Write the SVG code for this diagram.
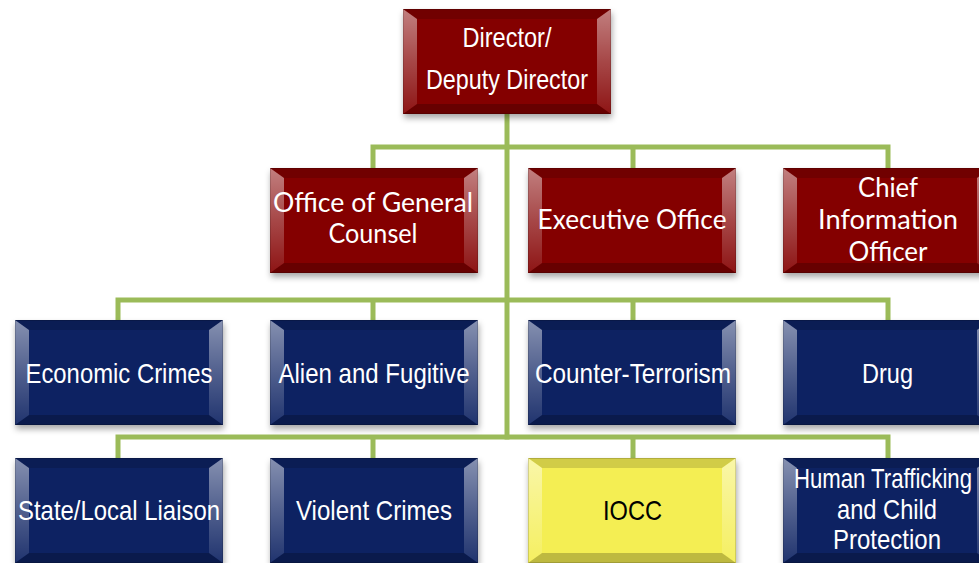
<svg xmlns="http://www.w3.org/2000/svg" xmlns:xlink="http://www.w3.org/1999/xlink" width="979" height="563" viewBox="0 0 979 563">
<defs>
<style>
.conn{stroke:#9bbb59;stroke-width:5;fill:none;stroke-linejoin:miter;stroke-linecap:square}
.a{font-family:"Liberation Sans",Arial,sans-serif;font-size:28px;fill:#fff;text-anchor:middle}
.c{font-family:Lato,"Open Sans",sans-serif;font-size:26px;fill:#fff;text-anchor:middle}
.dk{fill:#000}
</style>
<filter id="sh" x="-10%" y="-10%" width="125%" height="130%">
<feDropShadow dx="1" dy="4" stdDeviation="3" flood-color="#000" flood-opacity="0.35"/>
</filter>
<linearGradient id="side" x1="0" y1="0" x2="0" y2="1">
<stop offset="0" stop-color="#fff" stop-opacity="0.5"/>
<stop offset="0.5" stop-color="#fff" stop-opacity="0.28"/>
<stop offset="1" stop-color="#fff" stop-opacity="0.08"/>
</linearGradient>
<g id="bev">
<polygon points="0,0 208,0 194,10 14,10" fill="#000" fill-opacity="0.14"/>
<polygon points="0,105 208,105 194,95 14,95" fill="#000" fill-opacity="0.22"/>
<polygon points="0,0 14,10 14,95 0,105" fill="url(#side)"/>
<polygon points="208,0 194,10 194,95 208,105" fill="url(#side)"/>
<rect x="0.5" y="0.5" width="207" height="104" fill="none" stroke="#000" stroke-opacity="0.15"/>
</g>
<g id="box-red"><rect width="208" height="105" fill="#840000" filter="url(#sh)"/><use xlink:href="#bev"/></g>
<g id="box-blue"><rect width="208" height="105" fill="#0b2262" filter="url(#sh)"/><use xlink:href="#bev"/></g>
<g id="box-yellow"><rect width="208" height="105" fill="#f4ee52" filter="url(#sh)"/><use xlink:href="#bev"/></g>
</defs>
<rect width="979" height="563" fill="#fff"/>
<g id="connectors">
<path class="conn" d="M507,114 V437"/>
<path class="conn" d="M373,168 V147 H888 V168 M633,147 V168"/>
<path class="conn" d="M118,320 V300 H888 V320 M373,300 V320 M633,300 V320"/>
<path class="conn" d="M118,458 V437 H888 V458 M373,437 V458 M633,437 V458"/>
</g>
<g id="n-director" transform="translate(403,9)"><use xlink:href="#box-red"/>
<text class="a" x="104" y="38" font-size="27" textLength="89" lengthAdjust="spacingAndGlyphs">Director/</text>
<text class="a" x="104" y="80" font-size="27" textLength="162" lengthAdjust="spacingAndGlyphs">Deputy Director</text></g>
<g id="n-ogc" transform="translate(270,168)"><use xlink:href="#box-red"/>
<text class="c" x="103" y="44" textLength="200" lengthAdjust="spacingAndGlyphs">Office of General</text>
<text class="c" x="103" y="75" textLength="89" lengthAdjust="spacingAndGlyphs">Counsel</text></g>
<g id="n-exec" transform="translate(528,168)"><use xlink:href="#box-red"/>
<text class="c" x="104" y="61" textLength="189" lengthAdjust="spacingAndGlyphs">Executive Office</text></g>
<g id="n-cio" transform="translate(783,168)"><use xlink:href="#box-red"/>
<text class="c" x="105" y="29" textLength="60" lengthAdjust="spacingAndGlyphs">Chief</text>
<text class="c" x="105" y="61" textLength="140" lengthAdjust="spacingAndGlyphs">Information</text>
<text class="c" x="105" y="93" textLength="79" lengthAdjust="spacingAndGlyphs">Officer</text></g>
<g id="n-econ" transform="translate(15,320)"><use xlink:href="#box-blue"/>
<text class="a" x="104" y="63" textLength="187" lengthAdjust="spacingAndGlyphs">Economic Crimes</text></g>
<g id="n-alien" transform="translate(270,320)"><use xlink:href="#box-blue"/>
<text class="a" x="104" y="63" textLength="191" lengthAdjust="spacingAndGlyphs">Alien and Fugitive</text></g>
<g id="n-ct" transform="translate(528,320)"><use xlink:href="#box-blue"/>
<text class="a" x="105" y="63" textLength="196" lengthAdjust="spacingAndGlyphs">Counter-Terrorism</text></g>
<g id="n-drug" transform="translate(783,320)"><use xlink:href="#box-blue"/>
<text class="a" x="104.5" y="63" textLength="51" lengthAdjust="spacingAndGlyphs">Drug</text></g>
<g id="n-state" transform="translate(15,458)"><use xlink:href="#box-blue"/>
<text class="a" x="104" y="62" textLength="202" lengthAdjust="spacingAndGlyphs">State/Local Liaison</text></g>
<g id="n-violent" transform="translate(270,458)"><use xlink:href="#box-blue"/>
<text class="a" x="104" y="62" textLength="156" lengthAdjust="spacingAndGlyphs">Violent Crimes</text></g>
<g id="n-iocc" transform="translate(528,458)"><use xlink:href="#box-yellow"/>
<text class="a dk" x="104.5" y="62" textLength="59" lengthAdjust="spacingAndGlyphs">IOCC</text></g>
<g id="n-human" transform="translate(783,458)"><use xlink:href="#box-blue"/>
<text class="a" x="100" y="30" textLength="178" lengthAdjust="spacingAndGlyphs">Human Trafficking</text>
<text class="a" x="104" y="61" textLength="100" lengthAdjust="spacingAndGlyphs">and Child</text>
<text class="a" x="104" y="91" textLength="108" lengthAdjust="spacingAndGlyphs">Protection</text></g>
</svg>
